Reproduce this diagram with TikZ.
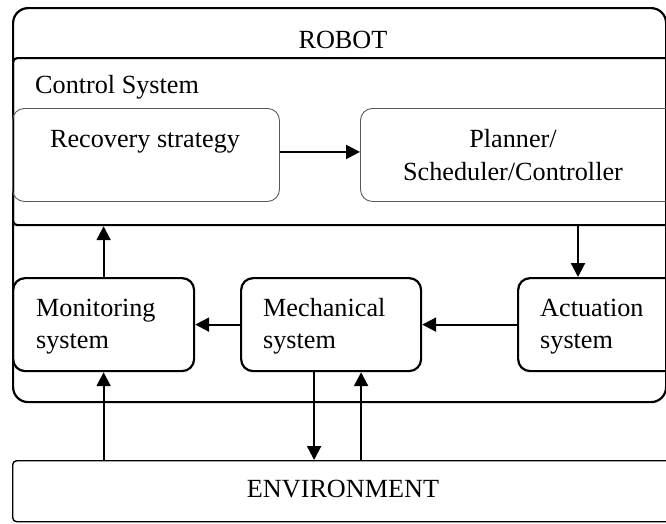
\documentclass[tikz,border=0pt]{standalone}
\usepackage{fontspec}
\setmainfont{Liberation Serif}
\usetikzlibrary{arrows.meta,calc}
\begin{document}
\begin{tikzpicture}[x=1pt,y=-1pt,
  frame/.style={draw=black,line width=2.2pt,inner sep=0pt,anchor=north west},
  softbox/.style={draw=black!65,line width=0.9pt,rounded corners=12pt,inner sep=0pt,anchor=north west},
  unit/.style={frame,rounded corners=12pt},
  lbl/.style={font=\fontsize{26.2}{32}\selectfont,inner sep=0pt},
  arr/.style={line width=2.2pt,-{Triangle[length=14pt,width=14pt]}}]
\useasboundingbox (0,0) rectangle (666,523);
\clip (0,0) rectangle (666,523);

% robot enclosure and its control system
\node[frame,rounded corners=15pt,minimum width=653pt,minimum height=394pt] (robot) at (12,7) {};
\node[frame,rounded corners=4pt,minimum width=700pt,minimum height=167pt] (ctrl) at (12,57) {};
\node[lbl,anchor=base] (robottitle) at (343,48) {ROBOT};
\node[lbl,anchor=base west] (ctrltitle) at (35,93) {Control System};

% control blocks
\node[softbox,minimum width=267pt,minimum height=93pt] (rec) at (12,108) {};
\node[lbl,anchor=base] (rectext) at (145,147) {Recovery strategy};
\node[softbox,minimum width=330pt,minimum height=93pt] (plan) at (360,108) {};
\node[lbl,anchor=base,align=center,font=\fontsize{26.2}{33}\selectfont] (plantext) at (513,180) {Planner/\\Scheduler/Controller};

% lower subsystems (base anchor sits on the second line)
\node[unit,minimum width=181pt,minimum height=93pt] (mon) at (12,277) {};
\node[lbl,anchor=base west,align=left] (montext) at (36,348) {Monitoring\\system};
\node[unit,minimum width=180pt,minimum height=93pt] (mech) at (240,277) {};
\node[lbl,anchor=base west,align=left] (mechtext) at (263,348) {Mechanical\\system};
\node[unit,minimum width=180pt,minimum height=93pt] (act) at (517,277) {};
\node[lbl,anchor=base west,align=left] (acttext) at (540,348) {Actuation\\system};

% environment
\node[frame,rounded corners=4pt,line width=1.4pt,minimum width=700pt,minimum height=61pt] (env) at (12,460) {};
\node[lbl,anchor=base] (envtext) at (343,497) {ENVIRONMENT};

% signal flow
\draw[arr] ([yshift=3pt]rec.east) -- ([yshift=3pt]rec.east -| plan.west);
\coordinate (ctrlout) at ([xshift=61pt]act.north west);
\draw[arr] (ctrlout |- ctrl.south) -- (ctrlout);
\draw[arr] (act.west) -- (mech.east);
\draw[arr] (mech.west) -- (mon.east);
\draw[arr] (mon.north) -- (mon.north |- ctrl.south);
\draw[arr] (mon.south |- env.north) -- (mon.south);
\coordinate (mechdown) at ([xshift=-17pt]mech.south);
\coordinate (mechup) at ([xshift=30pt]mech.south);
\draw[arr] (mechdown) -- (mechdown |- env.north);
\draw[arr] (mechup |- env.north) -- (mechup);
\end{tikzpicture}
\end{document}
